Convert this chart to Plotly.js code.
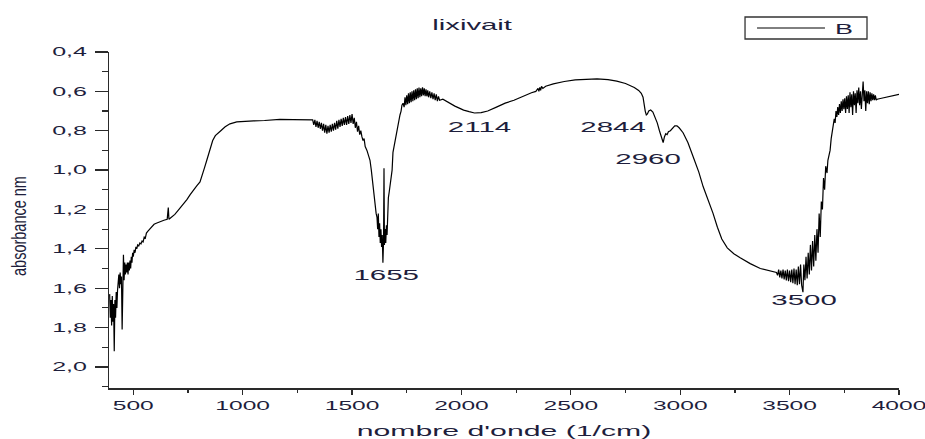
<!DOCTYPE html>
<html>
<head>
<meta charset="utf-8">
<script src="https://cdn.plot.ly/plotly-3.0.1.min.js"></script>
<style>html,body{margin:0;padding:0;background:#fff}</style>
</head>
<body>
<div id="chart" style="width:925px;height:439px"></div>
<script>
// IR spectrum of the leachate: wavenumber (cm-1) vs absorbance
const wavenumber = [
  392,395,398,401,404,407,410,413,416,419,422,425,428,431,434,437,440,443,446,449,
  452,455,458,461,464,467,470,473,476,479,482,485,488,491,494,497,500,504,508,512,
  516,520,525,530,535,540,545,550,555,560,
  567,575,585,595,605,620,640,655,660,663,675,690,705,720,735,745,760,775,790,805,
  815,825,836,850,863,875,888,900,920,942,973,1000,1050,1100,1170,1230,1280,1310,
  1320,1325,1330,1335,1340,1345,1350,1355,1360,1365,1370,1375,1380,1385,1390,1395,
  1400,1405,1410,1415,1420,1425,1430,1435,1440,1445,1450,1455,1460,1465,1470,1475,
  1480,1485,1490,1495,1500,1505,1510,1515,1520,1525,1530,1535,
  1540,1545,1550,1555,1560,1568,1575,1582,1588,1592,1596,1600,1605,1610,1614,1617,
  1620,1623,1626,1629,1632,1635,1638,1641,1644,1646,1648,1651,1654,1657,1660,1663,
  1666,1670,1675,1680,1683,1687,1692,1697,1701,1705,1710,1715,1719,1724,1728,1733,
  1738,1742,1746,1750,1754,1758,1762,1766,1770,1774,1778,1782,1786,1790,1794,1798,
  1802,1806,1810,1814,1818,1822,1826,1830,1834,1838,1842,1846,1850,
  1855,1860,1865,1870,1875,1880,1885,1890,1895,1900,
  1915,1930,1950,1970,1990,2010,2035,2060,2090,2120,2160,2200,2240,2280,2320,2340,
  2350,2354,2358,2362,2366,2372,2385,2420,2470,2520,2570,2620,2670,2710,2750,2790,
  2810,2822,
  2830,2836,2840,2845,2850,2856,2865,2875,2885,2895,2905,2915,2922,2928,2934,2940,
  2946,2955,2965,2975,2985,2995,3013,3035,3060,3085,3105,3128,3150,3170,3190,3215,
  3245,3274,3320,3366,3405,3440,
  3445,3450,3455,3460,3465,3470,3475,3480,3485,3490,3495,3500,3505,3510,3515,3520,
  3525,3530,3535,3540,3545,3550,3555,3561,3565,3570,3575,3580,3585,3590,3595,3600,
  3605,3610,3615,3620,3625,3630,3635,3640,3645,3650,3655,3660,3665,
  3671,3675,3680,3685,3690,3695,3699,
  3704,3708,3712,3716,3720,3724,3728,3732,3736,3740,3744,3748,3752,3756,3760,3764,
  3768,3772,3776,3780,3784,3788,3792,3796,3800,3804,3808,3812,3816,3820,3824,3828,
  3832,3836,3840,3844,3848,3852,3856,3860,3864,3868,3872,3876,3880,3884,3888,3892,
  3896,3900,3920,3940,3960,3980,4000
];
const absorbance = [
  1.63,1.75,1.66,1.79,1.64,1.77,1.68,1.92,1.66,1.75,1.62,1.70,1.61,1.58,1.53,1.60,1.52,1.58,1.54,1.81,
  1.50,1.43,1.56,1.47,1.53,1.48,1.52,1.47,1.53,1.47,1.51,1.46,1.50,1.44,1.47,1.42,1.44,1.405,1.42,1.39,
  1.40,1.38,1.385,1.37,1.375,1.36,1.365,1.34,1.345,1.32,
  1.31,1.30,1.285,1.275,1.27,1.262,1.255,1.25,1.19,1.25,1.24,1.225,1.205,1.185,1.165,1.15,1.125,1.10,1.08,1.06,
  1.03,0.99,0.95,0.90,0.85,0.825,0.81,0.80,0.78,0.765,0.755,0.752,0.750,0.748,0.742,0.744,0.745,0.748,
  0.745,0.77,0.745,0.78,0.75,0.785,0.755,0.79,0.76,0.80,0.765,0.81,0.77,0.815,0.775,0.81,
  0.77,0.805,0.765,0.80,0.76,0.795,0.75,0.79,0.745,0.78,0.74,0.775,0.735,0.77,0.73,0.77,
  0.725,0.765,0.72,0.76,0.715,0.765,0.735,0.785,0.755,0.805,0.775,0.82,
  0.80,0.83,0.85,0.84,0.88,0.90,0.93,0.95,1.00,1.04,1.10,1.14,1.19,1.22,1.24,1.30,
  1.22,1.34,1.27,1.37,1.30,1.39,1.33,1.47,1.36,0.99,1.38,1.30,1.37,1.28,1.33,1.20,
  1.14,1.11,1.07,1.05,1.00,0.91,0.88,0.84,0.82,0.80,0.77,0.745,0.72,0.70,0.67,0.66,
  0.68,0.63,0.67,0.62,0.665,0.61,0.66,0.605,0.655,0.60,0.65,0.595,0.645,0.59,0.64,0.585,
  0.635,0.58,0.63,0.585,0.625,0.58,0.62,0.585,0.625,0.59,0.625,0.595,0.63,
  0.60,0.635,0.605,0.64,0.61,0.645,0.615,0.65,0.625,0.645,
  0.64,0.65,0.665,0.675,0.685,0.695,0.703,0.71,0.708,0.70,0.68,0.66,0.645,0.625,0.607,0.60,
  0.585,0.60,0.58,0.595,0.575,0.585,0.574,0.562,0.55,0.542,0.538,0.537,0.54,0.548,0.56,0.58,
  0.595,0.61,
  0.63,0.68,0.70,0.72,0.715,0.70,0.695,0.705,0.73,0.76,0.80,0.84,0.86,0.83,0.815,0.82,
  0.805,0.80,0.785,0.775,0.775,0.785,0.81,0.86,0.935,1.01,1.085,1.15,1.22,1.29,1.35,1.395,
  1.425,1.445,1.475,1.50,1.512,1.52,
  1.535,1.505,1.545,1.51,1.55,1.505,1.555,1.51,1.56,1.505,1.565,1.51,1.57,1.505,1.575,1.50,
  1.58,1.505,1.585,1.49,1.58,1.48,1.585,1.62,1.48,1.56,1.44,1.55,1.42,1.53,1.38,1.51,
  1.36,1.49,1.33,1.46,1.30,1.42,1.22,1.34,1.16,1.20,1.04,1.10,0.98,
  1.015,0.95,0.92,0.90,0.84,0.80,0.78,
  0.74,0.76,0.70,0.73,0.68,0.72,0.665,0.71,0.65,0.70,0.64,0.69,0.635,0.71,0.625,0.69,
  0.62,0.71,0.605,0.68,0.615,0.72,0.60,0.67,0.61,0.71,0.595,0.66,0.58,0.67,0.60,0.69,
  0.58,0.55,0.65,0.595,0.70,0.60,0.66,0.60,0.665,0.605,0.65,0.61,0.645,0.615,0.645,0.62,
  0.645,0.64,0.635,0.63,0.625,0.62,0.615
];

const seriesName = 'B';
const chartTitle = 'lixivait';
const xAxisTitle = "nombre d'onde (1/cm)";
const yAxisTitle = 'absorbance nm';
const peakLabels = ['1655', '2114', '2844', '2960', '3500'];
const yTickValues = [0.4, 0.6, 0.8, 1.0, 1.2, 1.4, 1.6, 1.8, 2.0];

const FONT = 'Liberation Sans, Arial, sans-serif';
const INK = '#1e1e3c';
const AXIS = '#2a2a2a';

// where each peak label sits (wavenumber, absorbance)
const labelSpots = [[1657, 1.528], [2083, 0.776], [2695, 0.776], [2853, 0.939], [3566, 1.655]];

const trace = {
  type: 'scatter', mode: 'lines', name: seriesName,
  x: wavenumber, y: absorbance,
  line: {color: '#000', width: 1.2},
  showlegend: false
};

const annotations = peakLabels.map((t, i) => ({
  text: t, x: labelSpots[i][0], y: labelSpots[i][1], xref: 'x', yref: 'y',
  showarrow: false, xanchor: 'center', yanchor: 'middle',
  font: {family: FONT, size: 15.5, color: INK}
}));
// legend entry text
annotations.push({
  text: seriesName, xref: 'paper', yref: 'paper', x: 0.9298, y: 1.0714,
  showarrow: false, xanchor: 'center', yanchor: 'middle',
  font: {family: FONT, size: 15, color: INK}
});

const layout = {
  width: 925, height: 439,
  margin: {l: 109, r: 26, t: 52, b: 51},
  paper_bgcolor: '#fff', plot_bgcolor: '#fff',
  separators: ',.',
  showlegend: false,
  title: {
    text: chartTitle, xref: 'container', yref: 'container',
    x: 0.511, xanchor: 'center', y: 0.943, yanchor: 'middle',
    font: {family: FONT, size: 15, color: INK}
  },
  xaxis: {
    range: [389, 4000], autorange: false,
    tick0: 0, dtick: 500, ticks: 'outside', ticklen: 5, tickwidth: 1.3, tickcolor: AXIS,
    minor: {ticks: 'outside', dtick: 250, tick0: 0, ticklen: 3, tickwidth: 1.2, tickcolor: AXIS},
    showline: true, linecolor: AXIS, linewidth: 1.5,
    showgrid: false, zeroline: false, automargin: false,
    tickfont: {family: FONT, size: 12.6, color: INK},
    title: {text: xAxisTitle, font: {family: FONT, size: 15.5, color: INK}}
  },
  yaxis: {
    range: [2.107, 0.4], autorange: false,
    tickmode: 'array', tickvals: yTickValues, tickformat: '.1f',
    ticks: 'outside', ticklen: 13, tickwidth: 1.3, tickcolor: AXIS,
    minor: {ticks: 'outside', dtick: 0.1, tick0: 0.4, ticklen: 6, tickwidth: 1.2, tickcolor: AXIS},
    showline: true, linecolor: AXIS, linewidth: 1.5,
    showgrid: false, zeroline: false, automargin: false,
    ticklabelstandoff: 5,
    tickfont: {family: FONT, size: 12.5, color: INK},
    title: {text: yAxisTitle, font: {family: FONT, size: 14.5, color: INK}}
  },
  shapes: [
    // legend frame and line sample
    {type: 'rect', xref: 'paper', yref: 'paper', x0: 0.8051, x1: 0.9595, y0: 1.0387, y1: 1.1042,
     line: {color: '#333', width: 1.3}, fillcolor: 'rgba(0,0,0,0)'},
    {type: 'line', xref: 'paper', yref: 'paper', x0: 0.8203, x1: 0.9063, y0: 1.0714, y1: 1.0714,
     line: {color: '#000', width: 1}}
  ],
  annotations: annotations
};

// widen a text element horizontally (scale s), anchored at its centre or right end,
// optionally moving its centre to (cx, cy) in page pixels
function widen(el, s, anchor, cx, cy) {
  const r = el.getBoundingClientRect();
  const m = el.parentNode.getScreenCTM();
  const mid = (r.left + r.right) / 2;
  const ax = anchor === 'end' ? r.right : mid;
  const px = (ax - m.e) / m.a;
  let dx = 0, dy = 0;
  if (cx !== undefined) {
    dx = (cx - mid) / m.a;
    dy = (cy - (r.top + r.bottom) / 2) / m.d;
  }
  const prev = el.getAttribute('transform') || '';
  el.setAttribute('transform',
    `translate(${dx},${dy}) translate(${px},0) scale(${s},1) translate(${-px},0) ${prev}`);
}

Plotly.newPlot('chart', [trace], layout, {staticPlot: true, displayModeBar: false}).then(gd => {
  const all = sel => Array.from(gd.querySelectorAll(sel));
  all('.xtick text').forEach(t => widen(t, 1.95, 'middle'));
  all('.ytick text').forEach(t => widen(t, 2.0, 'end'));
  all('.annotation-text').forEach(t => widen(t, t.textContent === seriesName ? 1.8 : 1.9, 'middle'));
  all('.gtitle').forEach(t => widen(t, 1.95, 'middle', 473, 25));
  all('.xtitle').forEach(t => widen(t, 1.95, 'middle', 504, 431));
  all('.ytitle').forEach(t => widen(t, 1.4, 'middle', 19, 226));
});
</script>
</body>
</html>
